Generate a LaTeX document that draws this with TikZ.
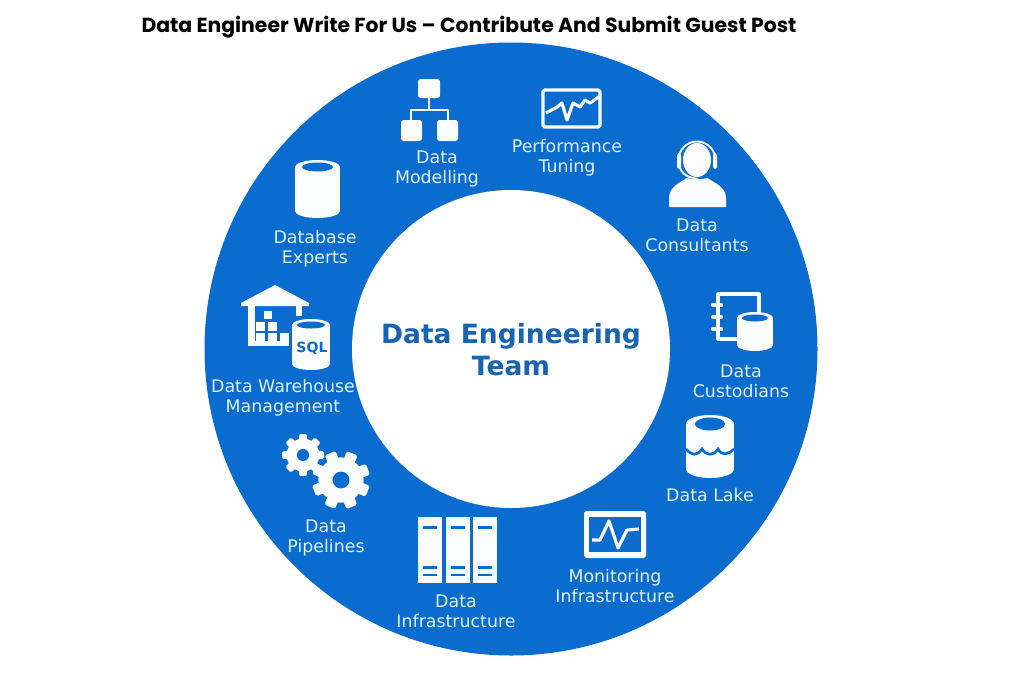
\documentclass[tikz,border=0pt]{standalone}
\usepackage{fontspec}
\setmainfont{DejaVu Sans}
\newfontfamily\titlefont{Poppins}
\definecolor{ringblue}{RGB}{9,108,206}
\definecolor{teamblue}{RGB}{22,100,178}
\definecolor{iconwhite}{RGB}{250,252,254}
\definecolor{textwhite}{RGB}{226,240,250}
\tikzset{
    teamlabel/.style={align=center, text=textwhite, inner sep=0pt,
        font=\fontsize{9.9}{11.3}\selectfont},
    iconline/.style={draw=iconwhite, line width=1.9pt, line join=round},
    slotline/.style={draw=ringblue, line width=1.5pt},
}
\newcommand{\drumicon}[6]{%
    \fill[iconwhite] (#1-#4,#2+#5) rectangle (#1+#4,#3-#5);
    \fill[iconwhite] (#1,#2+#5) ellipse[x radius=#4, y radius=#5];
    \fill[iconwhite] (#1,#3-#5) ellipse[x radius=#4, y radius=#5];
    \fill[ringblue] (#1,#2+#5) ellipse[x radius=#4-#6, y radius=#5-2.5];
}
\newcommand{\gearicon}[4]{%
    \fill[iconwhite] (#1,#2) circle (#3*0.78);
    \foreach \a in {0,45,90,135} {
        \fill[iconwhite, rounded corners=1pt, rotate around={\a+#4:(#1,#2)}]
            (#1-#3*0.2,#2-#3) rectangle (#1+#3*0.2,#2+#3);
    }
    \fill[ringblue] (#1,#2) circle (#3*0.29);
}
\begin{document}
\begin{tikzpicture}[x=0.02cm, y=-0.02cm]
    % --- Parameters ---
    \pgfmathsetmacro{\cx}{511}
    \pgfmathsetmacro{\cy}{349}
    \pgfmathsetmacro{\Ro}{306.5}
    \pgfmathsetmacro{\Ri}{159}
    \useasboundingbox (0,0) rectangle (1024,683);
    \fill[white] (0,0) rectangle (1024,683);
    % --- Main shapes ---
    \fill[ringblue] (\cx,\cy) circle (\Ro);
    \fill[white] (\cx,\cy) circle (\Ri);
    % --- Titles ---
    \node[inner sep=0pt, font=\titlefont\bfseries\fontsize{11.6}{14}\selectfont] (title) at (469,27) {Data Engineer Write For Us – Contribute And Submit Guest Post};
    \node[align=center, inner sep=0pt, text=teamblue, font=\bfseries\fontsize{15.1}{18.2}\selectfont] (team) at (511,350) {Data Engineering\\Team};
    % --- Labels ---
    \node[teamlabel] (modelling) at (437,169) {Data\\Modelling};
    \node[teamlabel] (tuning) at (567,158) {Performance\\Tuning};
    \node[teamlabel] (consultants) at (697,235) {Data\\Consultants};
    \node[teamlabel] (custodians) at (741,381) {Data\\Custodians};
    \node[teamlabel] (lake) at (710,495) {Data Lake};
    \node[teamlabel] (monitoring) at (615,586) {Monitoring\\Infrastructure};
    \node[teamlabel] (infrastructure) at (456,611) {Data\\Infrastructure};
    \node[teamlabel] (pipelines) at (326,538) {Data\\Pipelines};
    \node[teamlabel] (warehouse) at (283,398) {Data Warehouse\\Management};
    \node[teamlabel] (experts) at (315,249) {Database\\Experts};

    % --- Data modelling icon ---
    \draw[iconline, line width=1.7pt] (429,95) -- (429,110) (411,125) -- (411,110) -- (448,110) -- (448,125);
    \fill[iconwhite, rounded corners=1.5pt] (418,79) rectangle (440,98);
    \foreach \x in {401,437} {
        \fill[iconwhite, rounded corners=1.5pt] (\x,120) rectangle (\x+21,141);
    }
    % --- Performance icon ---
    \draw[iconline, rounded corners=1pt] (543,90) rectangle (600,127);
    \draw[iconline, line width=1.8pt] (546,113) -- (557,107) -- (562,103) -- (567,120) -- (573,103) -- (580,107) -- (585,100) -- (590,103) -- (600,96);
    % --- Consultant icon ---
    \fill[iconwhite] (669,207) -- (669,197) .. controls (670,186) and (680,183) .. (688,177) -- (706,177) .. controls (714,183) and (725,186) .. (726,197) -- (726,207) -- cycle;
    \draw[ringblue, line width=1.2pt] (680,173) .. controls (686,180) and (708,180) .. (714,173);
    \fill[iconwhite] (697,160) ellipse[x radius=14, y radius=17];
    \draw[iconwhite, line width=1.1pt] (697,160) ++(-18.5,0) arc[start angle=180, end angle=360, radius=18.5];
    \draw[iconwhite, line width=1.1pt] (680,168) .. controls (684,177) and (692,178) .. (698,179);
    \foreach \x in {679,715} {
        \fill[iconwhite, rounded corners=1pt] (\x-2,153) rectangle (\x+2,169);
    }
    % --- Custodian icon ---
    \draw[iconline, line width=1.8pt] (737,339) -- (718,339) -- (718,294) -- (759,294) -- (759,315);
    \foreach \y in {305,317,329} {
        \draw[iconwhite, line width=2.4pt, line cap=round] (713,\y) -- (721,\y);
    }
    \drumicon{755}{312}{351}{18}{6}{5}
    % --- Lake icon ---
    \drumicon{710}{415}{478}{24}{9}{9}
    \draw[slotline] (686,449) .. controls (692,456) and (697,456) .. (702,449) .. controls (706,456) and (714,456) .. (718,449) .. controls (722,456) and (728,455) .. (734,449);
    % --- Warehouse icon ---
    \fill[iconwhite] (275,285) -- (309,303) -- (309,306) -- (241,306) -- (241,303) -- cycle;
    \fill[iconwhite] (248,306) rectangle (255,342);
    \fill[iconwhite] (296,306) rectangle (302,322);
    \fill[iconwhite] (248,341) rectangle (292,346);
    \fill[iconwhite] (264,311) rectangle (272,319);
    \foreach \x in {256,268} {
        \fill[iconwhite] (\x,322) rectangle (\x+9,331);
    }
    \foreach \x in {256,268,280} {
        \fill[iconwhite] (\x,333) rectangle (\x+9,341);
    }
    \fill[ringblue] (289,316) rectangle (333,372);
    \drumicon{311}{319}{370}{19}{6}{5}
    \node[inner sep=0pt, text=ringblue, font=\bfseries\fontsize{8}{10}\selectfont] (sql) at (312,348) {SQL};
    % --- Database icon ---
    \drumicon{317.5}{160}{218}{22.5}{7}{7}
    % --- Gear icons ---
    \gearicon{303}{455}{21}{0}
    \gearicon{341}{480}{29}{22}
    % --- Server icon ---
    \foreach \x in {418,445.5,473} {
        \fill[iconwhite] (\x,517) rectangle (\x+24,583);
        \draw[slotline] (\x+5,527.5) -- (\x+19,527.5);
        \draw[slotline] (\x+5,567.5) -- (\x+19,567.5);
        \draw[slotline] (\x+5,575) -- (\x+19,575);
    }
    % --- Monitoring icon ---
    \fill[iconwhite, rounded corners=1.5pt] (584,511) rectangle (646,558);
    \fill[ringblue] (589,517) rectangle (641,552);
    \draw[iconline, line width=1.8pt] (592,540) -- (600,540) -- (609,521) -- (618,548) -- (627,530) -- (639,529);
\end{tikzpicture}
\end{document}
